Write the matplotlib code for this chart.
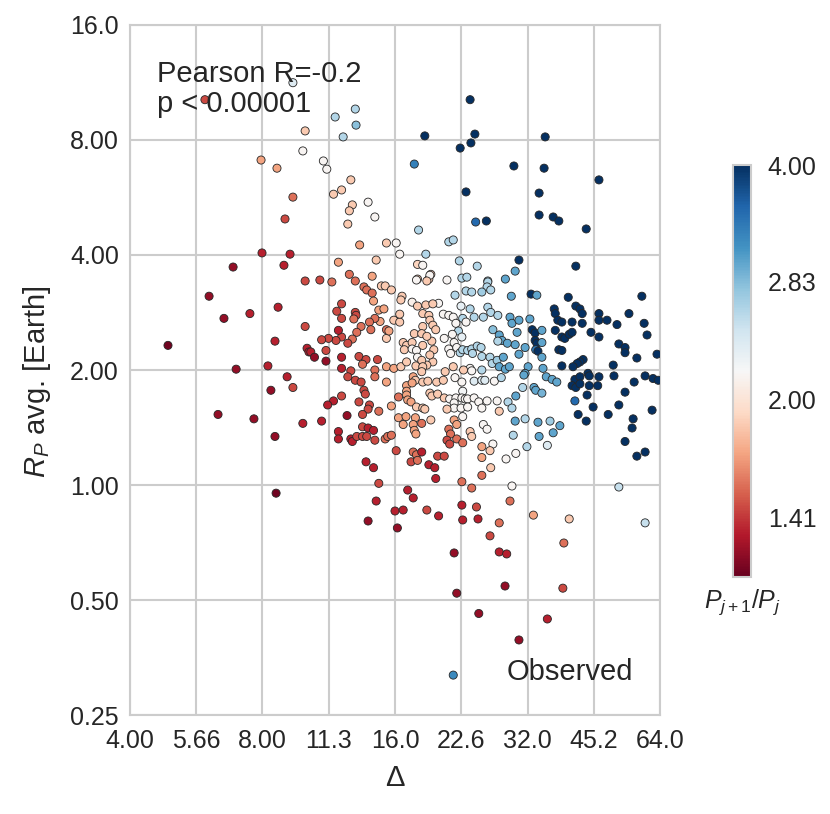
import matplotlib
matplotlib.use("Agg")
import matplotlib.pyplot as plt
import matplotlib.ticker as mticker
from matplotlib.colors import LogNorm
import seaborn as sns

# orbital spacing (mutual Hill radii), planet radius (Earth) and period ratio
delta = [
    9.38, 5.92, 13.0, 11.7, 13.05, 10.0, 12.2, 9.88, 7.94, 11.0,
    8.63, 11.2, 12.7, 12.1, 11.6, 9.38, 13.9, 12.8, 12.6, 14.4,
    12.5, 9.00, 13.3, 15.3, 7.98, 9.24, 6.86, 8.95, 11.9, 14.5,
    12.6, 13.0, 10.0, 10.8, 11.5, 14.2, 13.6, 13.8, 14.2, 14.9,
    15.2, 6.05, 14.3, 23.7, 18.7, 24.3, 35.1, 23.8, 22.5, 17.7,
    29.8, 34.9, 46.5, 23.2, 34.0, 34.0, 36.6, 37.7, 43.5, 24.4,
    25.8, 18.1, 16.1, 21.2, 21.7, 16.4, 18.8, 22.4, 18.0, 18.5,
    24.6, 19.3, 30.6, 30.0, 41.2, 22.7, 23.3, 21.0, 18.0, 19.1,
    26.0, 28.5, 8.68, 7.49, 6.54, 10.0, 4.88, 8.54, 10.1, 10.2,
    6.97, 8.23, 9.10, 9.38, 8.36, 6.34, 7.65, 9.88, 8.54, 8.59,
    15.7, 17.9, 12.1, 11.8, 12.1, 13.0, 13.05, 12.9, 14.7, 15.1,
    14.8, 14.4, 14.0, 13.4, 14.1, 13.1, 12.8, 12.5, 12.1, 11.9,
    11.75, 11.3, 10.9, 10.3, 10.5, 11.15, 11.15, 12.1, 13.25, 13.75,
    13.5, 14.6, 12.1, 12.7, 12.5, 14.4, 15.3, 15.9, 16.5, 17.0,
    17.85, 15.3, 15.3, 15.5, 15.9, 16.4, 16.4, 16.6, 16.5, 17.5,
    18.0, 17.7, 16.7, 17.0, 16.8, 17.5, 17.5, 17.9, 18.0, 19.2,
    18.9, 26.0, 25.9, 23.2, 23.9, 25.2, 26.4, 21.9, 29.4, 32.6,
    33.6, 20.1, 18.8, 19.5, 22.6, 23.7, 26.0, 26.4, 27.4, 25.4,
    24.2, 22.8, 20.6, 21.2, 21.7, 29.2, 29.5, 30.6, 32.4, 18.5,
    19.1, 19.2, 19.5, 19.8, 18.5, 18.4, 23.2, 22.0, 22.3, 22.7,
    21.6, 21.8, 20.7, 19.4, 18.9, 19.6, 21.2, 21.4, 22.1, 22.5,
    22.8, 23.4, 23.9, 24.6, 25.1, 24.0, 25.2, 26.7, 27.6, 28.0,
    27.4, 28.8, 30.0, 30.3, 31.6, 32.8, 33.3, 33.3, 33.6, 33.4,
    33.8, 30.6, 26.3, 26.6, 27.3, 28.2, 27.6, 28.5, 29.1, 25.2,
    23.7, 23.9, 22.9, 21.7, 20.8, 19.5, 18.9, 18.4, 18.5, 18.4,
    32.1, 31.6, 19.2, 18.5, 39.6, 41.2, 42.1, 42.6, 36.8, 37.0,
    37.5, 38.3, 40.4, 42.6, 46.5, 46.5, 48.5, 51.1, 54.4, 58.2,
    58.9, 59.8, 37.0, 38.3, 38.9, 39.8, 40.4, 44.6, 46.5, 37.7,
    38.3, 51.6, 53.3, 53.3, 56.7, 63.0, 42.8, 42.1, 41.5, 38.3,
    40.6, 50.1, 34.5, 34.5, 34.5, 34.7, 43.9, 44.2, 46.5, 50.3,
    59.2, 35.3, 36.4, 41.0, 61.7, 13.0, 13.4, 13.6, 13.7, 14.4,
    15.3, 12.1, 11.6, 11.25, 13.25, 14.0, 13.9, 12.45, 13.5, 14.7,
    15.7, 16.3, 10.9, 11.9, 11.9, 13.5, 13.9, 14.3, 12.7, 12.8,
    13.1, 13.5, 13.8, 14.4, 15.2, 15.4, 15.7, 16.1, 13.75, 14.3,
    14.7, 17.1, 17.0, 17.0, 17.0, 17.1, 17.4, 17.6, 17.8, 17.5,
    17.9, 16.3, 16.95, 17.8, 16.7, 17.6, 17.7, 17.85, 17.6, 17.9,
    17.4, 18.0, 18.5, 19.0, 19.9, 20.6, 21.9, 22.7, 24.2, 25.2,
    25.6, 26.9, 27.9, 31.4, 19.2, 19.4, 20.0, 20.7, 21.3, 22.0,
    22.8, 22.7, 23.1, 23.4, 24.2, 24.8, 25.9, 27.3, 28.9, 30.1,
    31.2, 33.1, 33.4, 29.5, 21.8, 21.8, 22.6, 23.4, 21.0, 18.5,
    18.7, 22.8, 25.2, 27.6, 19.3, 18.4, 21.8, 22.1, 25.4, 25.9,
    30.0, 31.6, 33.8, 21.2, 21.4, 23.7, 23.9, 22.1, 21.0, 21.3,
    22.8, 29.7, 26.7, 25.2, 26.3, 31.9, 30.1, 28.6, 18.4, 20.0,
    20.7, 25.2, 19.1, 19.7, 26.4, 25.2, 19.8, 22.7, 23.9, 29.5,
    34.0, 37.3, 42.1, 40.4, 41.2, 42.1, 44.2, 46.2, 55.9, 63.4,
    34.5, 41.0, 43.7, 53.3, 45.1, 51.6, 61.4, 41.7, 43.5, 48.8,
    55.6, 55.3, 53.3, 56.7, 59.2, 36.0, 37.9, 36.6, 35.5, 51.6,
    14.5, 13.9, 16.0, 16.7, 17.6, 16.2, 18.9, 29.2, 22.7, 24.5,
    20.1, 22.8, 24.7, 27.6, 33.0, 39.8, 59.2, 26.3, 38.7, 21.8,
    27.6, 28.7, 28.45, 38.5, 22.1, 24.8, 35.5, 30.6, 21.7,
]

radius = [
    11.3, 10.2, 9.64, 9.19, 8.75, 8.45, 8.15, 7.49, 7.09, 7.05,
    6.75, 6.71, 6.29, 5.92, 5.77, 5.67, 5.50, 5.41, 5.22, 5.03,
    4.82, 4.97, 4.25, 4.30, 4.05, 4.02, 3.72, 3.76, 3.83, 3.88,
    3.56, 3.42, 3.42, 3.44, 3.40, 3.52, 3.30, 3.24, 3.18, 3.32,
    3.32, 3.12, 3.03, 10.2, 8.20, 8.29, 8.15, 7.86, 7.62, 6.92,
    6.84, 6.75, 6.29, 5.85, 5.81, 5.09, 5.03, 4.91, 4.68, 4.88,
    4.91, 4.65, 4.30, 4.33, 4.38, 4.02, 4.02, 3.86, 3.78, 3.76,
    3.74, 3.56, 3.88, 3.63, 3.74, 3.48, 3.50, 3.44, 3.46, 3.46,
    3.42, 3.46, 2.92, 2.81, 2.73, 2.60, 2.32, 2.38, 2.28, 2.23,
    2.01, 2.05, 1.92, 1.80, 1.77, 1.53, 1.49, 1.45, 1.34, 0.952,
    3.24, 3.44, 2.98, 2.85, 2.73, 2.83, 2.78, 2.72, 2.87, 2.89,
    2.68, 2.73, 2.67, 2.60, 2.55, 2.51, 2.41, 2.35, 2.44, 2.54,
    2.39, 2.42, 2.40, 2.23, 2.16, 2.25, 2.11, 2.16, 2.17, 2.13,
    2.07, 2.13, 2.02, 1.99, 1.92, 2.00, 2.04, 2.02, 2.04, 2.10,
    2.05, 2.42, 2.55, 2.53, 2.70, 2.67, 2.80, 3.12, 3.05, 3.01,
    2.94, 2.49, 2.36, 2.32, 2.26, 2.36, 2.27, 2.25, 2.16, 3.54,
    3.42, 3.40, 3.30, 3.22, 3.20, 3.20, 3.24, 3.14, 3.12, 3.16,
    3.14, 2.99, 2.96, 2.98, 2.94, 2.89, 2.92, 2.83, 2.78, 2.75,
    2.75, 2.73, 2.80, 2.78, 2.75, 2.75, 2.65, 2.70, 2.72, 2.81,
    2.78, 2.70, 2.62, 2.55, 2.60, 2.49, 2.67, 2.65, 2.53, 2.44,
    2.48, 2.36, 2.42, 2.38, 2.45, 2.26, 2.27, 2.21, 2.29, 2.22,
    2.26, 2.25, 2.27, 2.31, 2.29, 2.21, 2.17, 2.55, 2.47, 2.39,
    2.38, 2.35, 2.33, 2.51, 2.29, 2.55, 2.50, 2.39, 2.35, 2.26,
    2.24, 2.20, 2.16, 2.08, 2.12, 2.16, 2.04, 2.01, 2.04, 2.00,
    2.02, 1.99, 2.00, 2.04, 1.98, 2.10, 2.06, 2.12, 2.04, 1.98,
    2.04, 1.96, 2.19, 2.32, 3.10, 2.94, 2.89, 2.81, 2.89, 2.81,
    2.70, 2.67, 2.67, 2.65, 2.81, 2.70, 2.70, 2.63, 2.81, 3.12,
    2.65, 2.47, 2.54, 2.44, 2.42, 2.48, 2.51, 2.51, 2.44, 2.26,
    2.25, 2.34, 2.29, 2.22, 2.15, 2.20, 2.13, 2.10, 2.08, 2.05,
    2.04, 2.06, 2.54, 2.36, 2.16, 2.02, 1.96, 1.93, 1.92, 1.93,
    1.93, 1.92, 1.89, 1.89, 1.90, 1.88, 1.86, 1.77, 1.73, 1.92,
    1.86, 1.71, 1.66, 1.62, 1.65, 1.62, 1.58, 1.52, 1.53, 1.56,
    1.61, 1.70, 1.47, 1.38, 1.32, 1.42, 1.41, 1.39, 1.32, 1.30,
    1.34, 1.34, 1.34, 1.31, 1.32, 1.34, 1.35, 1.23, 1.15, 1.11,
    1.01, 0.970, 1.82, 1.76, 1.72, 1.67, 1.65, 1.92, 1.88, 1.85,
    1.60, 1.50, 1.51, 1.50, 1.44, 1.44, 1.39, 1.36, 1.22, 1.20,
    1.15, 1.16, 1.86, 1.87, 1.86, 1.88, 1.91, 1.86, 1.87, 1.88,
    1.88, 1.87, 1.91, 1.94, 1.74, 1.71, 1.73, 1.69, 1.68, 1.69,
    1.76, 1.69, 1.68, 1.68, 1.69, 1.65, 1.66, 1.66, 1.65, 1.71,
    1.80, 1.80, 1.77, 1.59, 1.64, 1.59, 1.59, 1.60, 1.58, 1.59,
    1.58, 1.51, 1.59, 1.56, 1.48, 1.45, 1.48, 1.44, 1.44, 1.40,
    1.47, 1.49, 1.46, 1.40, 1.36, 1.38, 1.34, 1.32, 1.31, 1.28,
    1.29, 1.35, 1.28, 1.26, 1.23, 1.26, 1.21, 1.17, 1.22, 1.19,
    1.19, 1.18, 1.13, 1.11, 1.11, 1.06, 1.04, 1.02, 0.982, 0.994,
    1.34, 1.86, 1.92, 1.82, 1.80, 1.84, 1.82, 1.82, 1.86, 1.88,
    1.74, 1.66, 1.72, 1.75, 1.60, 1.62, 1.57, 1.53, 1.47, 1.53,
    1.49, 1.41, 1.30, 1.19, 1.22, 1.47, 1.43, 1.37, 1.27, 0.988,
    0.908, 0.805, 0.855, 0.860, 0.925, 0.772, 0.860, 0.908, 0.886, 0.876,
    0.830, 0.810, 0.815, 0.796, 0.834, 0.815, 0.796, 0.736, 0.705, 0.664,
    0.668, 0.660, 0.544, 0.537, 0.521, 0.461, 0.446, 0.393, 0.318,
]

ratio = [
    2.35, 1.45, 2.6, 2.6, 2.8, 1.85, 2.6, 2.15, 1.7, 2.15,
    1.7, 2.15, 1.85, 1.85, 1.85, 1.55, 2.15, 1.85, 1.85, 2.15,
    1.85, 1.45, 1.7, 1.85, 1.35, 1.35, 1.27, 1.35, 1.7, 1.85,
    1.55, 1.55, 1.45, 1.45, 1.55, 1.7, 1.55, 1.55, 1.55, 1.85,
    1.85, 1.27, 1.7, 4.0, 4.0, 4.0, 4.0, 4.0, 4.0, 3.3,
    4.0, 4.0, 4.0, 4.0, 4.0, 4.0, 4.0, 4.0, 4.0, 3.5,
    4.0, 2.6, 2.15, 2.6, 2.6, 2.15, 2.6, 2.6, 1.9, 2.15,
    2.6, 1.85, 4.0, 3.0, 4.0, 2.6, 2.6, 2.15, 1.85, 1.85,
    2.6, 3.0, 1.35, 1.35, 1.27, 1.45, 1.2, 1.35, 1.35, 1.35,
    1.27, 1.35, 1.35, 1.45, 1.27, 1.27, 1.27, 1.35, 1.27, 1.2,
    1.85, 2.15, 1.45, 1.45, 1.45, 1.45, 1.45, 1.55, 1.7, 1.7,
    1.7, 1.55, 1.55, 1.55, 1.55, 1.55, 1.55, 1.45, 1.45, 1.35,
    1.45, 1.45, 1.45, 1.35, 1.27, 1.45, 1.27, 1.35, 1.45, 1.45,
    1.55, 1.45, 1.35, 1.45, 1.45, 1.55, 1.7, 1.7, 1.85, 1.85,
    1.85, 1.85, 1.55, 1.7, 1.85, 1.85, 1.85, 1.85, 1.85, 2.1,
    1.85, 1.85, 1.85, 1.85, 1.85, 1.85, 2.15, 2.15, 2.15, 2.15,
    1.85, 2.6, 2.6, 2.6, 2.6, 2.7, 2.6, 2.6, 3.0, 4.0,
    3.0, 2.15, 1.85, 1.85, 2.3, 2.6, 2.6, 2.6, 2.6, 2.6,
    2.6, 2.6, 2.15, 2.15, 2.15, 3.0, 3.0, 3.0, 3.0, 1.85,
    1.85, 1.85, 1.85, 1.85, 1.85, 1.85, 2.15, 2.15, 2.6, 2.3,
    2.15, 2.15, 2.15, 1.85, 1.85, 1.85, 2.15, 2.15, 2.15, 2.6,
    2.6, 2.6, 2.6, 2.6, 2.6, 2.6, 2.6, 2.8, 3.0, 3.0,
    2.6, 3.0, 3.0, 3.0, 3.0, 4.0, 4.0, 4.0, 4.0, 3.4,
    4.0, 3.0, 2.6, 2.6, 2.7, 3.0, 3.0, 3.0, 3.0, 2.6,
    2.15, 2.15, 1.85, 1.85, 1.85, 1.85, 1.85, 1.85, 1.85, 1.85,
    3.0, 3.0, 1.85, 1.85, 4.0, 4.0, 4.0, 4.0, 4.0, 4.0,
    4.0, 4.0, 4.0, 4.0, 4.0, 4.0, 4.0, 4.0, 4.0, 4.0,
    4.0, 4.0, 4.0, 4.0, 4.0, 4.0, 4.0, 4.0, 4.0, 4.0,
    4.0, 4.0, 4.0, 4.0, 4.0, 4.0, 4.0, 4.0, 4.0, 4.0,
    4.0, 4.0, 3.0, 3.0, 3.0, 3.0, 4.0, 4.0, 4.0, 4.0,
    4.0, 3.0, 3.0, 4.0, 4.0, 1.45, 1.45, 1.45, 1.45, 1.55,
    1.7, 1.45, 1.35, 1.35, 1.45, 1.45, 1.45, 1.27, 1.45, 1.55,
    1.7, 1.55, 1.35, 1.35, 1.35, 1.45, 1.35, 1.35, 1.35, 1.35,
    1.45, 1.45, 1.45, 1.45, 1.55, 1.55, 1.55, 1.45, 1.35, 1.35,
    1.45, 1.35, 1.7, 1.7, 1.7, 1.7, 1.7, 1.7, 1.85, 1.7,
    1.85, 1.7, 1.7, 1.7, 1.7, 1.7, 1.7, 1.7, 1.55, 1.55,
    1.45, 1.55, 1.85, 1.85, 1.85, 1.85, 2.15, 2.15, 2.35, 2.35,
    2.35, 2.15, 2.6, 3.0, 1.85, 1.85, 1.85, 1.85, 2.15, 2.15,
    2.2, 2.15, 2.15, 2.15, 2.15, 2.15, 2.15, 2.15, 2.6, 3.0,
    2.6, 3.0, 3.0, 2.6, 2.15, 2.15, 2.15, 2.15, 1.85, 1.85,
    1.85, 2.15, 2.15, 1.85, 1.85, 1.55, 1.7, 1.7, 2.15, 2.15,
    3.0, 2.6, 3.0, 1.55, 1.55, 1.85, 1.85, 1.55, 1.45, 1.45,
    1.55, 2.6, 2.15, 1.7, 1.85, 2.6, 2.15, 2.15, 1.35, 1.45,
    1.45, 1.7, 1.35, 1.35, 1.85, 1.55, 1.35, 1.55, 1.55, 2.15,
    3.0, 3.0, 4.0, 4.0, 4.0, 4.0, 4.0, 4.0, 4.0, 4.0,
    2.9, 3.5, 4.0, 4.0, 4.0, 4.0, 4.0, 4.0, 4.0, 4.0,
    4.0, 4.0, 4.0, 4.0, 4.0, 2.7, 3.0, 3.0, 2.35, 2.5,
    1.35, 1.27, 1.35, 1.35, 1.35, 1.27, 1.45, 1.55, 1.35, 1.45,
    1.35, 1.35, 1.35, 1.55, 1.7, 1.85, 2.5, 1.45, 1.55, 1.27,
    1.35, 1.35, 1.27, 1.45, 1.27, 1.27, 1.35, 1.27, 3.2,
]

x_ticks = [4.0, 5.66, 8.0, 11.3, 16.0, 22.6, 32.0, 45.2, 64.0]
y_ticks = [0.25, 0.5, 1.0, 2.0, 4.0, 8.0, 16.0]
cbar_ticks = [1.41, 2.0, 2.83, 4.0]


def fmt3(v):
    return "%.2f" % v if v < 10 else "%.1f" % v


sns.set_theme(style="whitegrid")
plt.rcParams['font.family'] = ['Liberation Sans', 'DejaVu Sans']
plt.rcParams['mathtext.fontset'] = 'custom'
plt.rcParams['mathtext.rm'] = 'Liberation Sans'
plt.rcParams['mathtext.it'] = 'Liberation Sans:italic'

fig = plt.figure(figsize=(8.3, 8.14), dpi=100)
ax = fig.add_axes([0.1566, 0.1216, 0.6386, 0.8477])
cax = fig.add_axes([0.883, 0.291, 0.022, 0.506])

sc = ax.scatter(delta, radius, c=ratio, cmap='RdBu',
                norm=LogNorm(vmin=1.18, vmax=4.0),
                s=34, edgecolors='0.15', linewidths=0.6, zorder=3)

ax.set_xscale('log', base=2)
ax.set_yscale('log', base=2)
ax.set_xlim(4, 64)
ax.set_ylim(0.25, 16)
ax.set_xticks(x_ticks)
ax.set_xticklabels([fmt3(v) for v in x_ticks])
ax.set_yticks(y_ticks)
ax.set_yticklabels([fmt3(v) for v in y_ticks])
ax.xaxis.set_minor_locator(mticker.NullLocator())
ax.yaxis.set_minor_locator(mticker.NullLocator())
ax.tick_params(labelsize=18, length=0, pad=8)
ax.tick_params(axis='x', pad=10)
ax.grid(color='0.8', linewidth=1.5)
for sp in ax.spines.values():
    sp.set_color('0.8')
    sp.set_linewidth(1.5)

ax.set_xlabel('\u0394', fontsize=21, labelpad=8)
ax.set_ylabel(r'$R_P$ avg. [Earth]', fontsize=21)
ax.yaxis.set_label_coords(-0.146, 0.483)

ax.text(0.051, 0.949, 'Pearson R=-0.2\np < 0.00001', transform=ax.transAxes,
        fontsize=21, va='top', ha='left', linespacing=1.08, color='0.15', zorder=4)
ax.text(0.949, 0.062, 'Observed', transform=ax.transAxes,
        fontsize=21, va='center', ha='right', color='0.15', zorder=4)

cb = fig.colorbar(sc, cax=cax)
cb.set_ticks(cbar_ticks)
cb.set_ticklabels(['%.2f' % v for v in cbar_ticks])
cax.yaxis.set_minor_locator(mticker.NullLocator())
cax.tick_params(labelsize=18, length=0, pad=12)
cb.outline.set_edgecolor('0.8')
cb.outline.set_linewidth(1.5)
cax.text(0.5, -0.025, r'$P_{j+1}/P_j$', transform=cax.transAxes,
         ha='center', va='top', fontsize=18)

fig.savefig('out.png', dpi=100)
